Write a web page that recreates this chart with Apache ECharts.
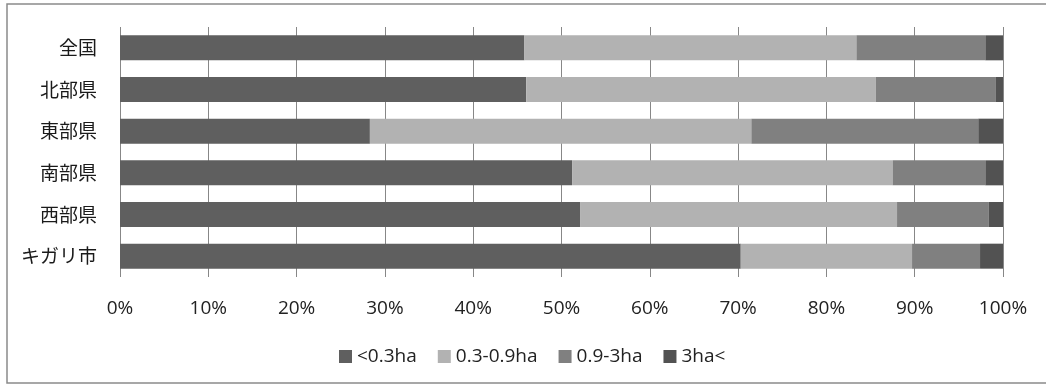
<!DOCTYPE html>
<html>
<head>
<meta charset="utf-8">
<script src="https://cdn.jsdelivr.net/npm/echarts@6/dist/echarts.min.js"></script>
<style>
  html, body { margin: 0; padding: 0; background: #fff; }
  #chart { width: 1046px; height: 385px; }
</style>
</head>
<body>
<div id="chart"></div>
<script>
// Regions, top to bottom
const categories = ['全国', '北部県', '東部県', '南部県', '西部県', 'キガリ市'];

// Share of households by farm size (%)
const under03 = [45.8, 46.0, 28.3, 51.2, 52.1, 70.3];
const from03to09 = [37.6, 39.6, 43.2, 36.3, 35.9, 19.4];
const from09to3 = [14.6, 13.6, 25.7, 10.5, 10.4, 7.7];
const over3 = [2.0, 0.8, 2.8, 2.0, 1.6, 2.6];

const seriesNames = ['<0.3ha', '0.3-0.9ha', '0.9-3ha', '3ha<'];
const seriesColors = ['#5f5f5f', '#b2b2b2', '#808080', '#525252'];
const seriesData = [under03, from03to09, from09to3, over3];

const latin = '"Open Sans", "Liberation Sans", sans-serif';
const cjk = '"Noto Sans CJK JP", sans-serif';

const chart = echarts.init(document.getElementById('chart'), null, { renderer: 'canvas' });

chart.setOption({
  animation: false,
  backgroundColor: '#ffffff',
  graphic: [{
    type: 'rect',
    shape: { x: 7, y: 4, width: 1100, height: 379 },
    style: { fill: 'none', stroke: '#8a8a8a', lineWidth: 1.5 },
    silent: true
  }],
  grid: { left: 120, right: 43, top: 27, bottom: 108 },
  legend: {
    top: 342,
    left: 334,
    itemWidth: 13,
    itemHeight: 13,
    itemGap: 21,
    itemTextGap: 4,
    icon: 'rect',
    textStyle: { fontFamily: latin, fontSize: 19, color: '#222' },
    data: seriesNames
  },
  xAxis: {
    type: 'value',
    min: 0,
    max: 100,
    interval: 10,
    axisLine: { show: false },
    axisTick: { show: false },
    splitLine: { show: true, lineStyle: { color: '#878787', width: 1 } },
    axisLabel: {
      formatter: '{value}%',
      fontFamily: latin,
      fontSize: 19,
      color: '#222',
      margin: 22
    }
  },
  yAxis: {
    type: 'category',
    inverse: true,
    data: categories,
    axisLine: { show: false },
    axisTick: { show: false },
    axisLabel: { fontFamily: cjk, fontSize: 19, color: '#1a1a1a', margin: 23 }
  },
  series: seriesNames.map((name, i) => ({
    name: name,
    type: 'bar',
    stack: 'total',
    barCategoryGap: '40%',
    itemStyle: { color: seriesColors[i] },
    data: seriesData[i]
  }))
});
</script>
</body>
</html>
